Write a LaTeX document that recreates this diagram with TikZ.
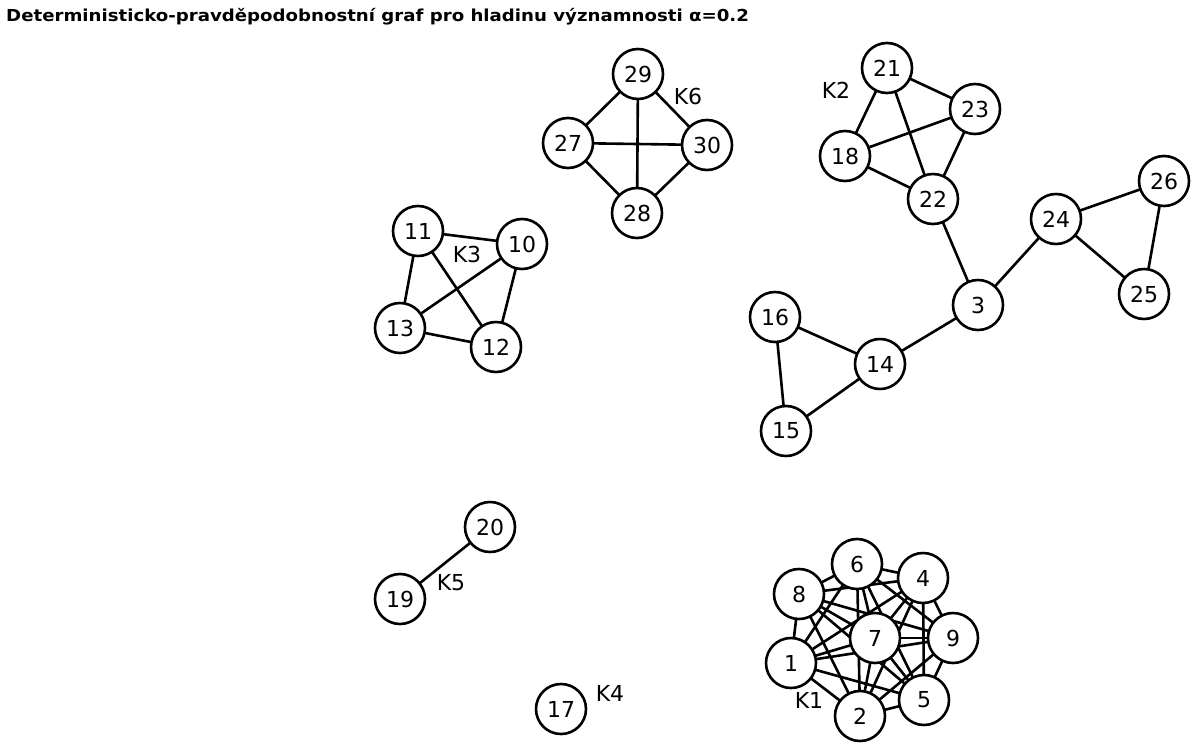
\documentclass[tikz,border=0pt]{standalone}
\usepackage{fontspec}
\setmainfont{DejaVu Sans}
\tikzset{
  vrchol/.style={circle,draw,line width=2.6pt,fill=white,minimum size=50pt,inner sep=0pt,font=\fontsize{22}{22}\selectfont},
  hrana/.style={line width=2.6pt},
  popis/.style={font=\fontsize{22}{22}\selectfont}
}
\begin{document}
\begin{tikzpicture}[x=1pt,y=-1pt]
	    \useasboundingbox (0,0) rectangle (1201,745);
	    \node[anchor=west,inner sep=0pt,font=\bfseries\fontsize{16.5}{17}\selectfont,xscale=1.1] (nadpis) at (6,17) {Deterministicko-pravděpodobnostní graf pro hladinu významnosti α=0.2};
	    % uzly
	    \foreach \n/\x/\y in {29/638/74,27/568/143,30/707/145,28/637/213,
	      21/887/68,23/975/109,18/845/156,22/933/199,
	      24/1056/219,26/1164/181,25/1144/294,3/978/305,
	      16/775/317,14/880/364,15/786/431,
	      11/418/231,10/522/244,13/400/328,12/496/347,
	      20/490/527,19/400/599,17/561/709,
	      6/857/564,4/923/578,8/799/594,7/875/638,9/953/638,1/791/663,5/924/700,2/860/716}
	      \coordinate (p\n) at (\x,\y);
	    % hrany
	    \foreach \a/\b in {29/27,29/30,29/28,27/30,27/28,30/28,
	      21/23,21/18,21/22,18/23,18/22,23/22,
	      22/3,3/24,24/26,24/25,26/25,3/14,14/16,14/15,16/15,
	      11/10,11/13,11/12,10/13,10/12,13/12,20/19}
	      \draw[hrana] (p\a) -- (p\b);
	    \foreach \a/\b in {1/2,1/4,1/5,1/6,1/7,1/8,1/9,2/4,2/5,2/6,2/7,2/8,2/9,
	      4/5,4/6,4/7,4/8,4/9,5/6,5/7,5/8,5/9,6/7,6/8,6/9,7/8,7/9,8/9}
	      \draw[hrana] (p\a) -- (p\b);
	    \foreach \n in {29,27,30,28,21,23,18,22,24,26,25,3,16,14,15,11,10,13,12,20,19,17,6,4,8,9,1,5,2,7}
	      \node[vrchol] (v\n) at (p\n) {\n};
	    % popisky komponent
	    \node[popis] (k6) at (688,96) {K6};
	    \node[popis] (k2) at (836,90) {K2};
	    \node[popis] (k3) at (467,254) {K3};
	    \node[popis] (k5) at (451,583) {K5};
	    \node[popis] (k4) at (610,693) {K4};
	    \node[popis] (k1) at (809,700) {K1};
\end{tikzpicture}
\end{document}
